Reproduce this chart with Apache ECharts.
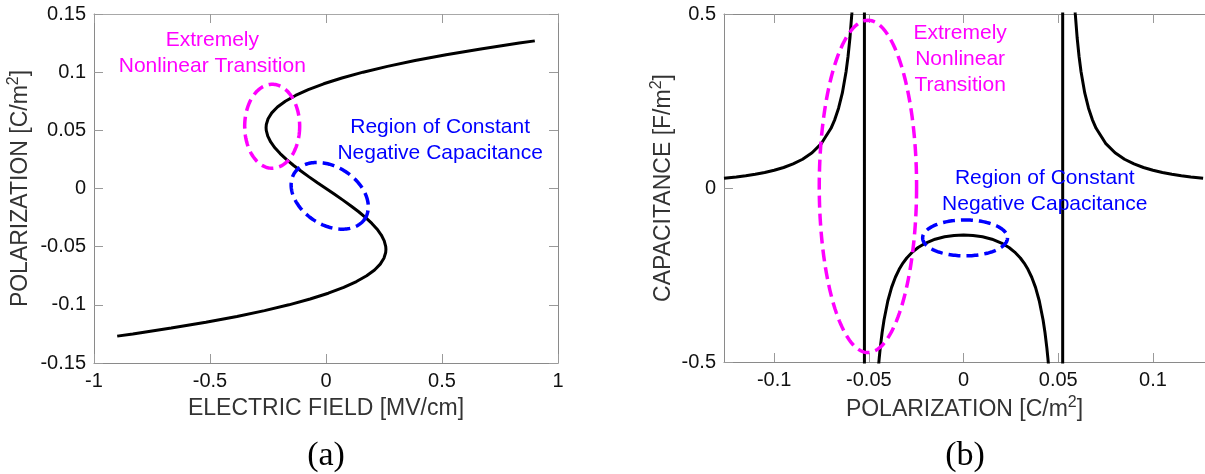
<!DOCTYPE html>
<html>
<head>
<meta charset="utf-8">
<script src="https://cdn.jsdelivr.net/npm/echarts@6/dist/echarts.min.js"></script>
<style>
  html, body { margin: 0; padding: 0; background: #fff; overflow: hidden; }
  #chart { width: 1205px; height: 474px; }
</style>
</head>
<body>
<div id="chart"></div>
<script>
// Panel (a): polarization P [C/m^2] against electric field E [MV/cm]
const polA = [-0.1269, -0.125, -0.12, -0.115, -0.11, -0.105, -0.1, -0.095, -0.09, -0.085, -0.08, -0.075, -0.07,
  -0.065, -0.06, -0.055, -0.0524, -0.05, -0.045, -0.04, -0.035, -0.03, -0.025, -0.02, -0.015, -0.01, -0.005,
  0,
  0.005, 0.01, 0.015, 0.02, 0.025, 0.03, 0.035, 0.04, 0.045, 0.05, 0.0524, 0.055, 0.06, 0.065, 0.07,
  0.075, 0.08, 0.085, 0.09, 0.095, 0.1, 0.105, 0.11, 0.115, 0.12, 0.125, 0.1269];
const fieldA = [-0.9, -0.8328, -0.6672, -0.5178, -0.3839, -0.2649, -0.16, -0.0686, 0.0099, 0.0763, 0.1312, 0.1753, 0.2093,
  0.2338, 0.2496, 0.2573, 0.2583, 0.2575, 0.251, 0.2384, 0.2204, 0.1977, 0.1709, 0.1408, 0.108, 0.0731, 0.0369,
  0,
  -0.0369, -0.0731, -0.108, -0.1408, -0.1709, -0.1977, -0.2204, -0.2384, -0.251, -0.2575, -0.2583, -0.2573, -0.2496, -0.2338, -0.2093,
  -0.1753, -0.1312, -0.0763, -0.0099, 0.0686, 0.16, 0.2649, 0.3839, 0.5178, 0.6672, 0.8328, 0.9];

// Panel (b): capacitance C [F/m^2] against polarization P [C/m^2]
const polB = [-0.1265, -0.12, -0.115, -0.11, -0.105, -0.1, -0.095, -0.09, -0.085, -0.08, -0.075, -0.07, -0.068, -0.066,
  -0.064, -0.062, -0.061, -0.06, -0.059, -0.058, -0.056, -0.054, -0.053, -0.0525,
  -0.0522, -0.052, -0.051, -0.05, -0.048, -0.047, -0.046, -0.045, -0.0445, -0.044, -0.043, -0.042, -0.04, -0.038,
  -0.036, -0.034, -0.032, -0.03, -0.027, -0.024, -0.02, -0.015, -0.01, -0.005,
  0,
  0.005, 0.01, 0.015, 0.02, 0.024, 0.027, 0.03, 0.032, 0.034, 0.036, 0.038, 0.04, 0.042, 0.043, 0.044, 0.0445,
  0.045, 0.046, 0.047, 0.048, 0.05, 0.051, 0.052, 0.0522,
  0.0525, 0.053, 0.054, 0.056, 0.058, 0.059, 0.06, 0.061, 0.062, 0.064, 0.066, 0.068, 0.07, 0.075, 0.08, 0.085,
  0.09, 0.095, 0.1, 0.105, 0.11, 0.115, 0.12, 0.1265];
const capB = [0.0279, 0.0318, 0.0353, 0.0396, 0.0447, 0.051, 0.0589, 0.0691, 0.0826, 0.1012, 0.1284, 0.1715, 0.1967, 0.2293,
  0.2733, 0.3357, 0.3778, 0.431, 0.5003, 0.5942, 0.937, 2.113, 5.43, 23.9,
  -23.3, -10.08, -2.65, -1.538, -0.848, -0.6965, -0.5928, -0.5175, -0.487, -0.4602, -0.4153, -0.3792, -0.3247, -0.2856,
  -0.2564, -0.2337, -0.2157, -0.2012, -0.1841, -0.1711, -0.1582, -0.1472, -0.1403, -0.1364,
  -0.1351,
  -0.1364, -0.1403, -0.1472, -0.1582, -0.1711, -0.1841, -0.2012, -0.2157, -0.2337, -0.2564, -0.2856, -0.3247, -0.3792, -0.4153, -0.4602, -0.487,
  -0.5175, -0.5928, -0.6965, -0.848, -1.538, -2.65, -10.08, -23.3,
  23.9, 5.43, 2.113, 0.937, 0.5942, 0.5003, 0.431, 0.3778, 0.3357, 0.2733, 0.2293, 0.1967, 0.1715, 0.1284, 0.1012, 0.0826,
  0.0691, 0.0589, 0.051, 0.0447, 0.0396, 0.0353, 0.0318, 0.0279];

// Tick values on the polarization axis of panel (b)
const ticksB = [-0.1, -0.05, 0, 0.05, 0.1];

// Highlighted regions: [centre x, centre y, half-width, half-height (axis units), tilt in degrees]
const ringsA = [[-0.232, 0.0535, 0.1185, 0.0361, 0], [0.016, -0.0063, 0.181, 0.0249, 33]];
const ringsB = [[-0.0505, 0.0045, 0.0257, 0.4775, 0], [0.0008, -0.1434, 0.0224, 0.0516, 0]];
const ringColors = ['#ff00ff', '#0000ff'];

// Callout texts and their anchor points (axis units)
const notesA = ['Extremely\nNonlinear Transition', 'Region of Constant\nNegative Capacitance'];
const notePosA = [[-0.49, 0.1159], [0.492, 0.0415]];
const notesB = ['Extremely\nNonlinear\nTransition', 'Region of Constant\nNegative Capacitance'];
const notePosB = [[-0.0018, 0.3692], [0.0429, -0.0092]];

const FONT = '"Liberation Sans", Arial, Helvetica, sans-serif';
const SERIF = '"Liberation Serif", "Times New Roman", serif';
const AXIS_GRAY = '#8a8a8a';

function zip(xs, ys) { return xs.map((x, i) => [x, ys[i]]); }

function nameStyle() {
  return {
    color: '#333',
    fontFamily: FONT,
    rich: {
      t: { fontSize: 23, color: '#333', fontFamily: FONT, lineHeight: 30 },
      s: { fontSize: 16, color: '#333', fontFamily: FONT, verticalAlign: 'top', lineHeight: 15 }
    }
  };
}

function axis(extra) {
  return Object.assign({
    type: 'value',
    splitLine: { show: false },
    axisLine: { show: true, onZero: false, lineStyle: { color: AXIS_GRAY, width: 1 } },
    axisTick: { show: true, inside: true, length: 9, lineStyle: { color: '#9a9a9a' } },
    axisLabel: { color: '#111', fontSize: 20, fontFamily: FONT, margin: 8 },
    nameTextStyle: nameStyle()
  }, extra);
}

function ringItem(rings) {
  return function (params, api) {
    const r = rings[params.dataIndex];
    const c = api.coord([r[0], r[1]]);
    const s = api.size([r[2], r[3]]);
    const a = Math.abs(s[0]), b = Math.abs(s[1]);
    const th = r[4] * Math.PI / 180;
    const pts = [];
    for (let k = 0; k < 160; k++) {
      const t = 2 * Math.PI * k / 160;
      const ex = a * Math.cos(t), ey = b * Math.sin(t);
      pts.push([c[0] + ex * Math.cos(th) - ey * Math.sin(th), c[1] + ex * Math.sin(th) + ey * Math.cos(th)]);
    }
    return {
      type: 'polygon',
      shape: { points: pts },
      style: { fill: 'none', stroke: ringColors[params.dataIndex], lineWidth: 3.5, lineDash: [12, 6] }
    };
  };
}

function noteItem(texts) {
  return function (params, api) {
    const c = api.coord([api.value(0), api.value(1)]);
    return {
      type: 'text',
      x: c[0], y: c[1],
      style: {
        text: texts[params.dataIndex],
        fill: ringColors[params.dataIndex],
        fontSize: 21, fontFamily: FONT, lineHeight: 26,
        align: 'center', verticalAlign: 'middle'
      }
    };
  };
}

const chart = echarts.init(document.getElementById('chart'), null, { renderer: 'canvas' });

chart.setOption({
  animation: false,
  backgroundColor: '#fff',
  grid: [
    { left: 94, top: 14, width: 464, height: 349 },
    { left: 724, top: 14, width: 483, height: 348 }
  ],
  xAxis: [
    axis({
      gridIndex: 0, position: 'bottom', min: -1, max: 1, interval: 0.5,
      name: '{t|ELECTRIC FIELD [MV/cm]}', nameLocation: 'middle', nameGap: 31
    }),
    axis({
      gridIndex: 0, position: 'top', min: -1, max: 1, interval: 0.5,
      axisLabel: { show: false }, axisLine: { show: true, onZero: false, lineStyle: { color: '#a8a8a8' } }
    }),
    axis({
      gridIndex: 1, position: 'bottom', min: -0.1265, max: 0.1275,
      axisTick: { show: true, inside: true, length: 9, lineStyle: { color: '#9a9a9a' }, customValues: ticksB },
      axisLabel: { color: '#111', fontSize: 20, fontFamily: FONT, margin: 8, customValues: ticksB },
      name: '{t|POLARIZATION [C/m}{s|2}{t|]}', nameLocation: 'middle', nameGap: 32
    }),
    axis({
      gridIndex: 1, position: 'top', min: -0.1265, max: 0.1275,
      axisTick: { show: true, inside: true, length: 9, lineStyle: { color: '#9a9a9a' }, customValues: ticksB },
      axisLabel: { show: false },
      axisLine: { show: true, onZero: false, lineStyle: { color: AXIS_GRAY } }
    })
  ],
  yAxis: [
    axis({
      gridIndex: 0, position: 'left', min: -0.15, max: 0.15, interval: 0.05,
      name: '{t|POLARIZATION [C/m}{s|2}{t|]}', nameLocation: 'middle', nameGap: 58
    }),
    axis({
      gridIndex: 0, position: 'right', min: -0.15, max: 0.15, interval: 0.05,
      axisLabel: { show: false }
    }),
    axis({
      gridIndex: 1, position: 'left', min: -0.5, max: 0.5, interval: 0.5,
      name: '{t|CAPACITANCE [F/m}{s|2}{t|]}', nameLocation: 'middle', nameGap: 45
    })
  ],
  series: [
    {
      type: 'line', xAxisIndex: 0, yAxisIndex: 0,
      data: zip(fieldA, polA),
      showSymbol: false, clip: true, silent: true,
      lineStyle: { color: '#000', width: 3 }
    },
    {
      type: 'line', xAxisIndex: 2, yAxisIndex: 2,
      data: zip(polB, capB),
      showSymbol: false, clip: true, silent: true,
      lineStyle: { color: '#000', width: 3 }
    },
    {
      type: 'custom', xAxisIndex: 0, yAxisIndex: 0, silent: true, z: 5,
      data: ringsA.map(r => [r[0], r[1]]),
      renderItem: ringItem(ringsA)
    },
    {
      type: 'custom', xAxisIndex: 2, yAxisIndex: 2, silent: true, z: 5,
      data: ringsB.map(r => [r[0], r[1]]),
      renderItem: ringItem(ringsB)
    },
    {
      type: 'custom', xAxisIndex: 0, yAxisIndex: 0, silent: true, z: 6,
      data: notePosA,
      renderItem: noteItem(notesA)
    },
    {
      type: 'custom', xAxisIndex: 2, yAxisIndex: 2, silent: true, z: 6,
      data: notePosB,
      renderItem: noteItem(notesB)
    }
  ],
  graphic: [
    {
      type: 'text', x: 326, y: 456, silent: true,
      style: { text: '(a)', fontSize: 34, fontFamily: SERIF, fill: '#000',
               align: 'center', verticalAlign: 'middle', textAlign: 'center', textVerticalAlign: 'middle' }
    },
    {
      type: 'text', x: 965, y: 456, silent: true,
      style: { text: '(b)', fontSize: 34, fontFamily: SERIF, fill: '#000',
               align: 'center', verticalAlign: 'middle', textAlign: 'center', textVerticalAlign: 'middle' }
    }
  ]
});
</script>
</body>
</html>
